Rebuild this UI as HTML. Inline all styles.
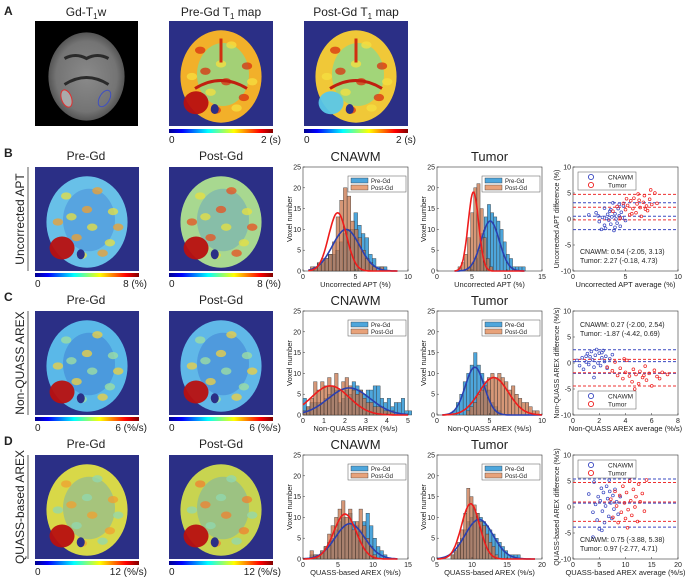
<!DOCTYPE html>
<html><head><meta charset="utf-8"><style>
html,body{margin:0;padding:0;background:#fff}
svg{display:block;font-family:"Liberation Sans",sans-serif}
</style></head><body>
<svg id="fig" width="686" height="581" viewBox="0 0 686 581" xmlns="http://www.w3.org/2000/svg">
<defs>
<linearGradient id="jet" x1="0" x2="1" y1="0" y2="0">
<stop offset="0" stop-color="#00008f"/><stop offset="0.125" stop-color="#0000ff"/><stop offset="0.375" stop-color="#00ffff"/><stop offset="0.625" stop-color="#ffff00"/><stop offset="0.875" stop-color="#ff0000"/><stop offset="1" stop-color="#800000"/>
</linearGradient>
<radialGradient id="gray" cx="0.5" cy="0.5" r="0.5"><stop offset="0" stop-color="#8a8a8a"/><stop offset="0.8" stop-color="#747474"/><stop offset="1" stop-color="#555"/></radialGradient>
</defs>
<g id="static"></g>
<g id="charts"></g>
</svg>
<script>
// ---------- histogram data ----------
const bCnawmPre=[1,2,2,3,4,4,5,7,9,10,10,14,11,9,8,4,3,1,1,1];
const bCnawmPost=[1,1,2,3,3,4,7,13,17,20,18,12,10,8,5,3,2,1,0,1];
const bTumorPre=[1,2,3,5,9,13,16,14,13,12,10,7,4,3,1,1,1,1];
const bTumorPost=[1,2,4,8,14,20,21,15,8,3,1];
const cCnawmPre=[4,2,3,3,3,3,4,5,7,6,3,4,6,5,8,7,6,5,6,6,7,7,4,3,4,2,3,3,4,1,1,0];
const cCnawmPost=[1,2,4,8,6,8,7,9,7,10,6,8,9,7,6,5,6,4,3,3,2,2,2,1,1,1,0];
const cTumorPre=[1,3,5,8,10,12,15,12,10,8,6,3,2,1];
const cTumorPost=[1,2,3,5,6,7,9,10,9,10,9,8,6,7,5,4,3,3,2,1,1];
const dCnawmPre=[1,1,1,2,3,4,5,7,9,10,8,11,9,8,7,9,11,8,5,3,2,1];
const dCnawmPost=[2,1,1,2,3,6,8,10,12,14,10,12,7,9,12,8,5,3,1];
const dTumorPre=[1,2,3,5,7,9,10,12,11,10,9,8,7,6,5,4,3,2,1,1,1,1];
const dTumorPost=[1,2,4,7,11,17,15,13,11,9,8,6,4,3,1];
// gaussian fit parameters [mean, sd, peak]
const bCnawmFit={pre:[4.1,1.3,10],post:[3.3,0.85,14]};
const bTumorFit={pre:[7.6,1.3,12],post:[5.2,0.75,19]};
const cCnawmFit={pre:[2.2,1.0,6.5],post:[1.3,0.9,7]};
const cTumorFit={pre:[3.6,0.9,11.5],post:[5.4,1.4,9]};
const dCnawmFit={pre:[6.7,2.1,8.5],post:[6.0,1.6,10.8]};
const dTumorFit={pre:[11,2.0,9.5],post:[9.8,1.3,13.3]};
// ---------- Bland-Altman data ----------
const bCnawmPts=[[1.5,0.8],[2.2,1.2],[2.5,-0.5],[2.8,0.3],[3.0,2.1],[3.1,-1.8],[3.3,0.9],[3.4,-0.2],[3.5,1.5],[3.6,-1.0],[3.7,0.4],[3.8,3.1],[3.9,-2.2],[4.0,1.0],[4.1,0.0],[4.2,-0.8],[4.3,2.0],[4.4,0.6],[4.5,-1.4],[4.6,1.3],[4.7,0.2],[4.8,2.5],[5.0,-0.3],[2.7,-2.0],[3.2,0.1],[3.6,1.8],[4.0,-1.6],[2.4,0.6],[3.0,-1.2],[4.4,2.8]];
const bTumorPts=[[3.8,1.5],[4.2,2.4],[4.5,0.2],[4.8,3.0],[5.0,1.8],[5.2,2.6],[5.4,0.8],[5.5,3.5],[5.7,2.0],[5.8,4.0],[6.0,1.2],[6.1,2.9],[6.3,3.6],[6.4,2.2],[6.5,0.5],[6.7,3.2],[6.8,4.5],[7.0,2.5],[7.1,1.6],[7.3,3.8],[7.5,2.8],[7.8,5.0],[8.0,3.0],[5.6,1.0],[6.2,4.8],[6.9,1.9],[7.4,5.6],[5.1,3.9]];
const cCnawmPts=[[0.3,0.5],[0.5,-0.5],[0.7,1.0],[0.8,-1.2],[1.0,0.2],[1.1,1.8],[1.2,-0.3],[1.3,1.2],[1.4,2.2],[1.5,0.6],[1.6,-0.8],[1.7,1.5],[1.8,2.6],[1.9,0.0],[2.0,1.9],[2.1,-0.5],[2.2,1.0],[2.3,2.4],[2.4,0.3],[2.5,1.3],[2.6,-1.0],[2.8,0.8],[3.0,1.6],[1.6,-2.8],[2.2,2.0],[1.0,1.3]];
const cTumorPts=[[2.6,-0.8],[3.0,-1.5],[3.2,0.2],[3.4,-2.4],[3.6,-1.0],[3.8,-3.0],[4.0,-1.8],[4.1,0.5],[4.3,-2.5],[4.5,-3.6],[4.6,-1.2],[4.8,-2.2],[5.0,-4.0],[5.1,-1.6],[5.3,-2.8],[5.5,-0.6],[5.6,-3.3],[5.8,-2.0],[6.0,-4.4],[6.2,-1.4],[6.4,-2.6],[6.6,-3.0],[6.8,-1.8],[7.2,-2.2],[4.7,-5.0],[3.9,0.8],[5.4,-2.4]];
const dCnawmPts=[[3.0,2.5],[3.8,-1.0],[4.0,4.8],[4.3,0.5],[4.6,-2.5],[4.8,2.0],[5.0,-4.2],[5.2,1.2],[5.4,3.6],[5.6,-0.8],[5.8,2.8],[6.0,-3.0],[6.2,0.2],[6.4,4.0],[6.6,1.6],[6.8,-1.8],[7.0,3.0],[7.2,0.8],[7.4,-2.2],[7.6,2.2],[7.8,-0.4],[8.0,3.4],[8.3,1.0],[8.6,-1.4],[9.0,2.0],[3.8,-5.8],[5.5,-4.5],[6.9,5.2]];
const dTumorPts=[[7.2,1.5],[7.6,-2.0],[8.0,3.0],[8.3,0.2],[8.6,-3.0],[8.9,2.2],[9.2,-1.0],[9.5,4.0],[9.8,0.8],[10.0,-2.2],[10.2,2.8],[10.5,-0.5],[10.8,5.0],[11.0,1.2],[11.2,-1.6],[11.5,3.4],[11.8,0.0],[12.0,2.0],[12.3,-2.8],[12.5,4.4],[12.8,1.0],[13.2,2.6],[13.6,-0.8],[14.0,5.2],[11.0,5.8],[10.4,-4.0],[9.0,6.0]];
// Bland-Altman lines [mean, lower, upper]
const bLines={cnawm:[0.54,-2.05,3.13],tumor:[2.27,-0.18,4.73]};
const cLines={cnawm:[0.27,-2.00,2.54],tumor:[-1.87,-4.42,0.69]};
const dLines={cnawm:[0.75,-3.88,5.38],tumor:[0.97,-2.77,4.71]};

const NS="http://www.w3.org/2000/svg";
function mk(tag,attrs,parent){const e=document.createElementNS(NS,tag);for(const k in attrs)e.setAttribute(k,attrs[k]);(parent||document.getElementById('charts')).appendChild(e);return e;}
function txt(x,y,s,size,parent,anchor,extra){const t=mk('text',Object.assign({x:x,y:y,'font-size':size,'text-anchor':anchor||'middle',fill:'#222'},extra||{}),parent);t.textContent=s;return t;}

const ST=document.getElementById('static');
function label(x,y,s,size,name,anchor,bold){const t=txt(x,y,s,size,ST,anchor,bold?{'font-weight':'bold'}:{});return t;}
label(4,15,'A',12,'panel-label-a','start',true);
label(4,157,'B',12,'panel-label-b','start',true);
label(4,301,'C',12,'panel-label-c','start',true);
label(4,445,'D',12,'panel-label-d','start',true);
{const t=txt(86,16,'',12,ST);t.innerHTML='Gd-T<tspan font-size="8" dy="3">1</tspan><tspan dy="-3">w</tspan>';}
{const t=txt(221,16,'',12,ST);t.innerHTML='Pre-Gd T<tspan font-size="8" dy="3">1</tspan><tspan dy="-3"> map</tspan>';}
{const t=txt(356,16,'',12,ST);t.innerHTML='Post-Gd T<tspan font-size="8" dy="3">1</tspan><tspan dy="-3"> map</tspan>';}

// decorative texture offsets (fractions of image size) - not data
const speck=[[-0.2,-0.25,'a'],[0.1,-0.3,'b'],[0.25,-0.1,'a'],[-0.28,0.0,'b'],[0.05,0.05,'a'],[-0.1,0.15,'b'],[0.22,0.2,'a'],[0.0,-0.12,'b'],[-0.15,-0.05,'a'],[0.15,0.3,'b'],[-0.05,0.32,'a'],[0.3,0.05,'b']];
function brain(x,y,w,h,kind,name){
  const g=mk('g',{},ST);
  
  
  const cx=x+w/2, cy=y+h/2+3;
  if(kind==='t1w'){
    mk('rect',{x:x,y:y,width:w,height:h,fill:'#000'},g);
    mk('ellipse',{cx:cx,cy:cy,rx:w*0.37,ry:h*0.42,fill:'url(#gray)'},g);
    mk('path',{d:`M${cx-22} ${cy-18} q11 -6 22 0 q11 -6 22 0`,stroke:'#2a2a2a','stroke-width':3,fill:'none'},g);
    mk('path',{d:`M${cx-22} ${cy+8} q22 -14 44 0`,stroke:'#2a2a2a','stroke-width':3,fill:'none'},g);
    mk('ellipse',{cx:cx-20,cy:cy+22,rx:5,ry:9,fill:'#aaa',stroke:'#e03030','stroke-width':1,transform:`rotate(-20 ${cx-20} ${cy+22})`},g);
    mk('ellipse',{cx:cx+18,cy:cy+22,rx:5,ry:9,fill:'none',stroke:'#4050c0','stroke-width':1,transform:`rotate(30 ${cx+18} ${cy+22})`},g);
    return;
  }
  mk('rect',{x:x,y:y,width:w,height:h,fill:'#2b2f86'},g);
  const pal={t1pre:['#f2b02a','#8fd88a','#d83010','#f5e040'],t1post:['#f0c838','#8fd88a','#d83010','#f5e040'],
    apt:['#68c0e8','#3a70d0','#e8e040','#f0a030'],aptpost:['#a8d890','#4a90d8','#e8e040','#e85020'],
    arex:['#5ab8e8','#3060c8','#a0e0a0','#f0d040'],arexpost:['#60b8e8','#3060c8','#a0e0a0','#f0d040'],
    quass:['#d8d848','#4aa0e0','#f0a030','#90d8b0'],quasspost:['#c8d450','#4aa0e0','#f08030','#90d8b0']}[kind];
  mk('ellipse',{cx:cx,cy:cy,rx:w*0.39,ry:h*0.44,fill:pal[0]},g);
  mk('ellipse',{cx:cx+2,cy:cy-2,rx:w*0.25,ry:h*0.3,fill:pal[1],opacity:kind.startsWith('t1')?0.8:0.35},g);
  speck.forEach(s=>{mk('ellipse',{cx:cx+s[0]*w,cy:cy+s[1]*h,rx:w*0.05,ry:h*0.035,fill:s[2]==='a'?pal[2]:pal[3],opacity:0.75},g);});
  if(kind.startsWith('t1')){
    mk('path',{d:`M${cx-26} ${cy+12} q26 -16 52 0`,stroke:'#c02010','stroke-width':3,fill:'none'},g);
    mk('path',{d:`M${cx} ${cy-38} v24`,stroke:'#d03010','stroke-width':3,fill:'none'},g);
  }
  mk('ellipse',{cx:cx-w*0.24,cy:cy+h*0.25,rx:w*0.12,ry:h*0.11,fill:kind==='t1post'?'#5ac8e8':'#b81010',opacity:0.95},g);
  mk('ellipse',{cx:cx-w*0.06,cy:cy+h*0.31,rx:4,ry:5,fill:'#2b2f86'},g);
}
function cbar(x,y,w,lo,hi,name){
  const g=mk('g',{},ST);
  
  
  mk('rect',{x:x,y:y,width:w,height:4,fill:'url(#jet)'},g);
  txt(x,y+14,lo,10,g,'start');
  txt(x+w+8,y+14,hi,10,g,'end');
}
brain(35,21,103,105,'t1w','gd-t1w-image');
brain(169,21,104,105,'t1pre','pre-t1-map-image');cbar(169,129,104,'0','2 (s)','colorbar-pre-t1');
brain(304,21,104,105,'t1post','post-t1-map-image');cbar(304,129,104,'0','2 (s)','colorbar-post-t1');

const rows=[{top:167,row:'b',label:'Uncorrected APT',unit:'(%)',max:'8',k:['apt','aptpost']},
            {top:311,row:'c',label:'Non-QUASS AREX',unit:'(%/s)',max:'6',k:['arex','arexpost']},
            {top:455,row:'d',label:'QUASS-based AREX',unit:'(%/s)',max:'12',k:['quass','quasspost']}];
rows.forEach(r=>{
  label(86,r.top-7,'Pre-Gd',12,'title-pre-gd-'+r.row);
  label(221,r.top-7,'Post-Gd',12,'title-post-gd-'+r.row);
  const t=label(0,0,r.label,12,'row-label-'+r.row);
  t.setAttribute('transform',`translate(24 ${r.top+52}) rotate(-90)`);
  const ln=mk('line',{x1:28,x2:28,y1:r.top,y2:r.top+104,stroke:'#333','stroke-width':0.8},ST);
  
  
  brain(35,r.top,104,104,r.k[0],'map-pre-gd-'+r.row);
  brain(169,r.top,104,104,r.k[1],'map-post-gd-'+r.row);
  cbar(35,r.top+106,104,'0',r.max+' '+r.unit,'colorbar-pre-'+r.row);
  cbar(169,r.top+106,104,'0',r.max+' '+r.unit,'colorbar-post-'+r.row);
});

// ---------- charts ----------
const W=105,H=104;
function axesBox(g,x,y){mk('rect',{x:x,y:y,width:W,height:H,fill:'#fff',stroke:'#333','stroke-width':0.6},g);}
function hist(cfg){
  const g=mk('g',{});
  
  
  const x0=cfg.x,y0=cfg.y;
  const sx=v=>x0+(v-cfg.xmin)/(cfg.xmax-cfg.xmin)*W;
  const sy=v=>y0+H-v/25*H;
  axesBox(g,x0,y0);
  const drawBars=(arr,start,w,fill,op,nm)=>{arr.forEach((c,i)=>{if(!c)return;const b=mk('rect',{x:sx(start+i*w),y:sy(c),width:sx(start+(i+1)*w)-sx(start+i*w),height:sy(0)-sy(c),fill:fill,'fill-opacity':op,stroke:'#333','stroke-width':0.4},g);});};
  drawBars(cfg.pre,cfg.preStart,cfg.bw,'#4da6dc',1,'bar-pre-gd');
  drawBars(cfg.post,cfg.postStart,cfg.bw,'#c8744a',0.75,'bar-post-gd');
  const curve=(p,col,nm)=>{let d='';const n=80;for(let i=0;i<=n;i++){const v=cfg.fitMin+(cfg.fitMax-cfg.fitMin)*i/n;const yv=p[2]*Math.exp(-0.5*Math.pow((v-p[0])/p[1],2));d+=(i?'L':'M')+sx(v).toFixed(1)+' '+sy(yv).toFixed(1);}const c=mk('path',{d:d,fill:'none',stroke:col,'stroke-width':1.6},g);};
  curve(cfg.fit.pre,'#2a3fb0','fit-pre-gd');curve(cfg.fit.post,'#ee1c1c','fit-post-gd');
  cfg.xt.forEach(v=>{mk('line',{x1:sx(v),x2:sx(v),y1:y0+H,y2:y0+H-2,stroke:'#333','stroke-width':0.5},g);txt(sx(v),y0+H+8,String(v),7,g);});
  [0,5,10,15,20,25].forEach(v=>{mk('line',{x1:x0,x2:x0+2,y1:sy(v),y2:sy(v),stroke:'#333','stroke-width':0.5},g);txt(x0-2,sy(v)+2.5,String(v),7,g,'end');});
  txt(x0+W/2,y0+H+16,cfg.xlabel,7.5,g);
  const yl=txt(0,0,'Voxel number',7.5,g);yl.setAttribute('transform',`translate(${x0-11} ${y0+H/2}) rotate(-90)`);
  txt(x0+W/2,y0-6,cfg.title,13,g);
  const lg=mk('g',{},g);
  
  
  mk('rect',{x:x0+45,y:y0+9,width:58,height:16,fill:'#fff',stroke:'#555','stroke-width':0.5},lg);
  mk('rect',{x:x0+48,y:y0+11,width:17,height:5,fill:'#4da6dc',stroke:'#333','stroke-width':0.4},lg);
  mk('rect',{x:x0+48,y:y0+18,width:17,height:5,fill:'#e8a27a',stroke:'#333','stroke-width':0.4},lg);
  txt(x0+68,y0+16,'Pre-Gd',6,lg,'start');txt(x0+68,y0+23,'Post-Gd',6,lg,'start');
}
function ba(cfg){
  const g=mk('g',{});
  
  
  const x0=cfg.x,y0=cfg.y;
  const sx=v=>x0+(v-cfg.xmin)/(cfg.xmax-cfg.xmin)*W;
  const sy=v=>y0+H/2-v/10*(H/2);
  axesBox(g,x0,y0);
  const lines=(arr,col,nm)=>arr.forEach(v=>{const l=mk('line',{x1:x0,x2:x0+W,y1:sy(v),y2:sy(v),stroke:col,'stroke-width':1,'stroke-dasharray':'3 2'},g);});
  lines(cfg.lines.cnawm,'#3a48c0','loa-line-cnawm');lines(cfg.lines.tumor,'#ee3030','loa-line-tumor');
  const pts=(arr,col,nm)=>arr.forEach(p=>{const c=mk('circle',{cx:sx(p[0]),cy:sy(p[1]),r:1.4,fill:'none',stroke:col,'stroke-width':0.7},g);});
  pts(cfg.cn,'#3a48c0','point-cnawm');pts(cfg.tu,'#ee2020','point-tumor');
  cfg.xt.forEach(v=>{mk('line',{x1:sx(v),x2:sx(v),y1:y0+H,y2:y0+H-2,stroke:'#333','stroke-width':0.5},g);txt(sx(v),y0+H+8,String(v),7,g);});
  [-10,-5,0,5,10].forEach(v=>{mk('line',{x1:x0,x2:x0+2,y1:sy(v),y2:sy(v),stroke:'#333','stroke-width':0.5},g);txt(x0-2,sy(v)+2.5,String(v),7,g,'end');});
  txt(x0+W/2,y0+H+16,cfg.xlabel,7.5,g);
  const yl=txt(0,0,cfg.ylabel,7,g);yl.setAttribute('transform',`translate(${x0-14} ${y0+H/2}) rotate(-90)`);
  const ly=cfg.legendTop?y0+5:y0+H-24, ty=cfg.legendTop?y0+H-24:y0+9;
  const lg=mk('g',{},g);
  
  
  mk('rect',{x:x0+5,y:ly,width:58,height:18,fill:'#fff',stroke:'#555','stroke-width':0.5},lg);
  mk('circle',{cx:x0+18,cy:ly+5,r:2.6,fill:'none',stroke:'#3a48c0','stroke-width':0.9},lg);
  mk('circle',{cx:x0+18,cy:ly+13,r:2.6,fill:'none',stroke:'#ee2020','stroke-width':0.9},lg);
  txt(x0+35,ly+7.5,'CNAWM',6.5,lg,'start');txt(x0+35,ly+15.5,'Tumor',6.5,lg,'start');
  const L=cfg.lines;
  const f=a=>`${a[0].toFixed(2)} (${a[1].toFixed(2)}, ${a[2].toFixed(2)})`;
  const t1=txt(x0+7,ty+7,'CNAWM: '+f(L.cnawm),7,g,'start');
  const t2=txt(x0+7,ty+16,'Tumor: '+f(L.tumor),7,g,'start');
}
const hx1=303,hx2=437,sx3=573;
hist({name:'hist-cnawm-b',x:hx1,y:167,xmin:0,xmax:10,xt:[0,5,10],bw:0.35,preStart:1.0,postStart:0.7,pre:bCnawmPre,post:bCnawmPost,fit:bCnawmFit,fitMin:0.5,fitMax:9,xlabel:'Uncorrected APT (%)',title:'CNAWM'});
hist({name:'hist-tumor-b',x:hx2,y:167,xmin:0,xmax:15,xt:[0,5,10,15],bw:0.45,preStart:4.5,postStart:3.0,pre:bTumorPre,post:bTumorPost,fit:bTumorFit,fitMin:2.5,fitMax:12.5,xlabel:'Uncorrected APT (%)',title:'Tumor'});
ba({name:'bland-altman-b',x:sx3,y:167,xmin:0,xmax:10,xt:[0,5,10],cn:bCnawmPts,tu:bTumorPts,lines:bLines,legendTop:true,xlabel:'Uncorrected APT average (%)',ylabel:'Uncorrected APT difference (%)'});
hist({name:'hist-cnawm-c',x:hx1,y:311,xmin:0,xmax:5,xt:[0,1,2,3,4,5],bw:0.167,preStart:0,postStart:0,pre:cCnawmPre,post:cCnawmPost,fit:cCnawmFit,fitMin:0,fitMax:5,xlabel:'Non-QUASS AREX (%/s)',title:'CNAWM'});
hist({name:'hist-tumor-c',x:hx2,y:311,xmin:0,xmax:10,xt:[0,5,10],bw:0.33,preStart:1.5,postStart:2.8,pre:cTumorPre,post:cTumorPost,fit:cTumorFit,fitMin:0.5,fitMax:10,xlabel:'Non-QUASS AREX (%/s)',title:'Tumor'});
ba({name:'bland-altman-c',x:sx3,y:311,xmin:0,xmax:8,xt:[0,2,4,6,8],cn:cCnawmPts,tu:cTumorPts,lines:cLines,legendTop:false,xlabel:'Non-QUASS AREX average (%/s)',ylabel:'Non-QUASS AREX difference (%/s)'});
hist({name:'hist-cnawm-d',x:hx1,y:455,xmin:0,xmax:15,xt:[0,5,10,15],bw:0.5,preStart:1,postStart:1,pre:dCnawmPre,post:dCnawmPost,fit:dCnawmFit,fitMin:0,fitMax:13.5,xlabel:'QUASS-based AREX (%/s)',title:'CNAWM'});
hist({name:'hist-tumor-d',x:hx2,y:455,xmin:5,xmax:20,xt:[5,10,15,20],bw:0.45,preStart:7,postStart:7,pre:dTumorPre,post:dTumorPost,fit:dTumorFit,fitMin:5,fitMax:19,xlabel:'QUASS-based AREX (%/s)',title:'Tumor'});
ba({name:'bland-altman-d',x:sx3,y:455,xmin:0,xmax:20,xt:[0,5,10,15,20],cn:dCnawmPts,tu:dTumorPts,lines:dLines,legendTop:true,xlabel:'QUASS-based AREX average (%/s)',ylabel:'QUASS-based AREX difference (%/s)'});
</script>
</body></html>
